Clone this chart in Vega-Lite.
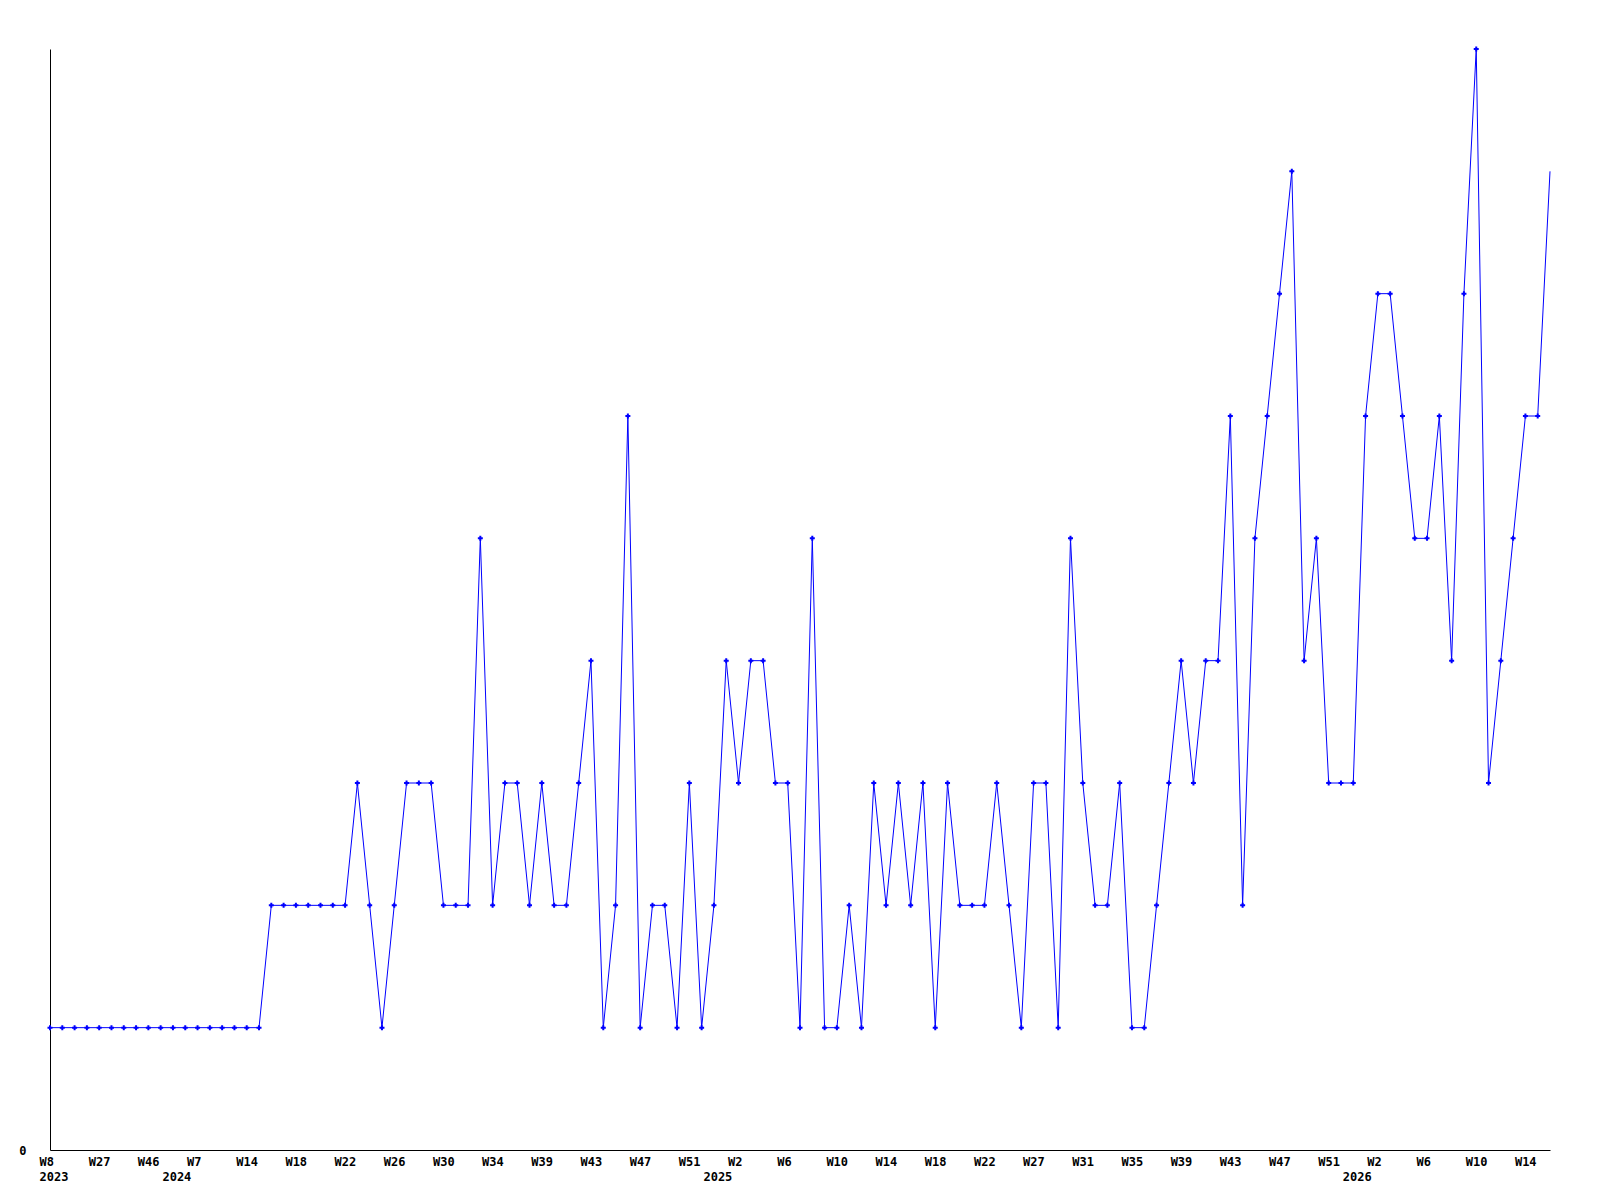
{
  "$schema": "https://vega.github.io/schema/vega-lite/v6.json",
  "width": 1500,
  "height": 1101,
  "autosize": {"type": "none"},
  "padding": {"left": 50, "top": 49, "right": 50, "bottom": 50},
  "background": "white",
  "config": {"view": {"stroke": null}},
  "data": {
    "values": [
      {"week": "2023 W8", "count": 1},
      {"week": "2023 W13", "count": 1},
      {"week": "2023 W18", "count": 1},
      {"week": "2023 W22", "count": 1},
      {"week": "2023 W27", "count": 1},
      {"week": "2023 W32", "count": 1},
      {"week": "2023 W37", "count": 1},
      {"week": "2023 W41", "count": 1},
      {"week": "2023 W46", "count": 1},
      {"week": "2023 W50", "count": 1},
      {"week": "2024 W0", "count": 1},
      {"week": "2024 W4", "count": 1},
      {"week": "2024 W7", "count": 1},
      {"week": "2024 W9", "count": 1},
      {"week": "2024 W11", "count": 1},
      {"week": "2024 W12", "count": 1},
      {"week": "2024 W14", "count": 1},
      {"week": "2024 W15", "count": 1},
      {"week": "2024 W16", "count": 2},
      {"week": "2024 W17", "count": 2},
      {"week": "2024 W18", "count": 2},
      {"week": "2024 W19", "count": 2},
      {"week": "2024 W20", "count": 2},
      {"week": "2024 W21", "count": 2},
      {"week": "2024 W22", "count": 2},
      {"week": "2024 W23", "count": 3},
      {"week": "2024 W24", "count": 2},
      {"week": "2024 W25", "count": 1},
      {"week": "2024 W26", "count": 2},
      {"week": "2024 W27", "count": 3},
      {"week": "2024 W28", "count": 3},
      {"week": "2024 W29", "count": 3},
      {"week": "2024 W30", "count": 2},
      {"week": "2024 W31", "count": 2},
      {"week": "2024 W32", "count": 2},
      {"week": "2024 W33", "count": 5},
      {"week": "2024 W34", "count": 2},
      {"week": "2024 W35", "count": 3},
      {"week": "2024 W37", "count": 3},
      {"week": "2024 W38", "count": 2},
      {"week": "2024 W39", "count": 3},
      {"week": "2024 W40", "count": 2},
      {"week": "2024 W41", "count": 2},
      {"week": "2024 W42", "count": 3},
      {"week": "2024 W43", "count": 4},
      {"week": "2024 W44", "count": 1},
      {"week": "2024 W45", "count": 2},
      {"week": "2024 W46", "count": 6},
      {"week": "2024 W47", "count": 1},
      {"week": "2024 W48", "count": 2},
      {"week": "2024 W49", "count": 2},
      {"week": "2024 W50", "count": 1},
      {"week": "2024 W51", "count": 3},
      {"week": "2024 W52", "count": 1},
      {"week": "2025 W0", "count": 2},
      {"week": "2025 W1", "count": 4},
      {"week": "2025 W2", "count": 3},
      {"week": "2025 W3", "count": 4},
      {"week": "2025 W4", "count": 4},
      {"week": "2025 W5", "count": 3},
      {"week": "2025 W6", "count": 3},
      {"week": "2025 W7", "count": 1},
      {"week": "2025 W8", "count": 5},
      {"week": "2025 W9", "count": 1},
      {"week": "2025 W10", "count": 1},
      {"week": "2025 W11", "count": 2},
      {"week": "2025 W12", "count": 1},
      {"week": "2025 W13", "count": 3},
      {"week": "2025 W14", "count": 2},
      {"week": "2025 W15", "count": 3},
      {"week": "2025 W16", "count": 2},
      {"week": "2025 W17", "count": 3},
      {"week": "2025 W18", "count": 1},
      {"week": "2025 W19", "count": 3},
      {"week": "2025 W20", "count": 2},
      {"week": "2025 W21", "count": 2},
      {"week": "2025 W22", "count": 2},
      {"week": "2025 W23", "count": 3},
      {"week": "2025 W24", "count": 2},
      {"week": "2025 W25", "count": 1},
      {"week": "2025 W27", "count": 3},
      {"week": "2025 W28", "count": 3},
      {"week": "2025 W29", "count": 1},
      {"week": "2025 W30", "count": 5},
      {"week": "2025 W31", "count": 3},
      {"week": "2025 W32", "count": 2},
      {"week": "2025 W33", "count": 2},
      {"week": "2025 W34", "count": 3},
      {"week": "2025 W35", "count": 1},
      {"week": "2025 W36", "count": 1},
      {"week": "2025 W37", "count": 2},
      {"week": "2025 W38", "count": 3},
      {"week": "2025 W39", "count": 4},
      {"week": "2025 W40", "count": 3},
      {"week": "2025 W41", "count": 4},
      {"week": "2025 W42", "count": 4},
      {"week": "2025 W43", "count": 6},
      {"week": "2025 W44", "count": 2},
      {"week": "2025 W45", "count": 5},
      {"week": "2025 W46", "count": 6},
      {"week": "2025 W47", "count": 7},
      {"week": "2025 W48", "count": 8},
      {"week": "2025 W49", "count": 4},
      {"week": "2025 W50", "count": 5},
      {"week": "2025 W51", "count": 3},
      {"week": "2025 W52", "count": 3},
      {"week": "2026 W0", "count": 3},
      {"week": "2026 W1", "count": 6},
      {"week": "2026 W2", "count": 7},
      {"week": "2026 W3", "count": 7},
      {"week": "2026 W4", "count": 6},
      {"week": "2026 W5", "count": 5},
      {"week": "2026 W6", "count": 5},
      {"week": "2026 W7", "count": 6},
      {"week": "2026 W8", "count": 4},
      {"week": "2026 W9", "count": 7},
      {"week": "2026 W10", "count": 9},
      {"week": "2026 W11", "count": 3},
      {"week": "2026 W12", "count": 4},
      {"week": "2026 W13", "count": 5},
      {"week": "2026 W14", "count": 6},
      {"week": "2026 W15", "count": 6},
      {"week": "2026 W16", "count": 8}
    ]
  },
  "encoding": {
    "x": {
      "field": "week",
      "type": "nominal",
      "sort": null,
      "scale": {"type": "point", "padding": 0},
      "axis": {
        "title": null,
        "values": ["2023 W8", "2023 W27", "2023 W46", "2024 W0", "2024 W7", "2024 W14", "2024 W18", "2024 W22", "2024 W26", "2024 W30", "2024 W34", "2024 W39", "2024 W43", "2024 W47", "2024 W51", "2025 W0", "2025 W2", "2025 W6", "2025 W10", "2025 W14", "2025 W18", "2025 W22", "2025 W27", "2025 W31", "2025 W35", "2025 W39", "2025 W43", "2025 W47", "2025 W51", "2026 W0", "2026 W2", "2026 W6", "2026 W10", "2026 W14"],
        "labelExpr": "split(datum.value, ' ')[1] == 'W0' ? [' ', split(datum.value, ' ')[0]] : (datum.value == '2023 W8' ? ['W8', '2023'] : split(datum.value, ' ')[1])",
        "labelAngle": 0,
        "labelAlign": "left",
        "labelOffset": -11,
        "labelBaseline": "top",
        "labelPadding": 6,
        "labelLineHeight": 15,
        "labelFont": "DejaVu Sans Mono",
        "labelFontWeight": "bold",
        "labelFontSize": 12,
        "labelColor": "black",
        "labelOverlap": false,
        "labelFlush": false,
        "labelBound": false,
        "ticks": false,
        "tickSize": 0,
        "grid": false,
        "domainColor": "black",
        "domainWidth": 1
      }
    },
    "y": {
      "field": "count",
      "type": "quantitative",
      "scale": {"domain": [0, 9], "nice": false, "zero": true},
      "axis": {
        "title": null,
        "values": [0],
        "labelFont": "DejaVu Sans Mono",
        "labelFontWeight": "bold",
        "labelFontSize": 12,
        "labelColor": "black",
        "labelPadding": 24,
        "labelBaseline": "middle",
        "ticks": false,
        "tickSize": 0,
        "grid": false,
        "domainColor": "black",
        "domainWidth": 1
      }
    }
  },
  "layer": [
    {"mark": {"type": "line", "color": "#0000ff", "strokeWidth": 1}},
    {
      "transform": [{"filter": "datum.week != '2026 W16'"}],
      "mark": {"type": "point", "shape": "cross", "size": 25, "filled": true, "color": "#0000ff", "opacity": 1}
    }
  ]
}
